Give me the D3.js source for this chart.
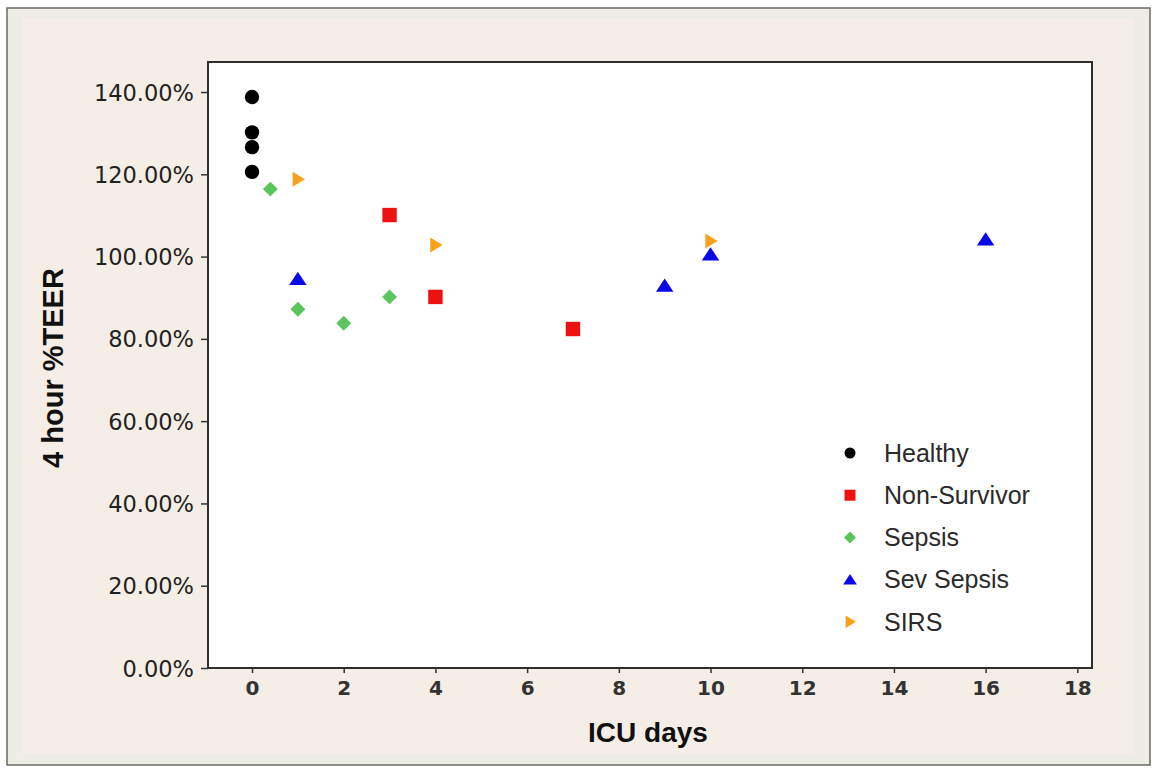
<!DOCTYPE html>
<html><head><meta charset="utf-8">
<script src="https://cdn.jsdelivr.net/npm/d3@7"></script>
<style>body{margin:0;background:#fff}</style>
</head><body>
<script>
const groups = ["Healthy","Non-Survivor","Sepsis","Sev Sepsis","SIRS"];
const healthyX = [0,0,0,0];
const healthyY = [138.8,130.2,126.6,120.6];
const nonSurvivorX = [3,4,7];
const nonSurvivorY = [110.1,90.2,82.4];
const sepsisX = [0.4,1,2,3];
const sepsisY = [116.4,87.2,83.8,90.2];
const sevSepsisX = [1,9,10,16];
const sevSepsisY = [94.6,93.0,100.6,104.2];
const sirsX = [1,4,10];
const sirsY = [118.8,102.8,103.8];
const xTicks = [0,2,4,6,8,10,12,14,16,18];
const yTicks = [0,20,40,60,80,100,120,140];

const W=1157,H=772;
const svg=d3.select("body").append("svg").attr("width",W).attr("height",H);
svg.append("rect").attr("x",0).attr("y",0).attr("width",W).attr("height",H).attr("fill","#ffffff");
svg.append("rect").attr("x",7).attr("y",8).attr("width",1143).attr("height",757).attr("fill","#eeede3").attr("stroke","#6b6b63").attr("stroke-width",1.5);
svg.append("rect").attr("x",22).attr("y",18).attr("width",1112).attr("height",736).attr("fill","#f5eee6");

const L=208,T=62,R=1092,B=668;
const x=d3.scaleLinear().domain([-0.96,18.32]).range([L,R]);
const y=d3.scaleLinear().domain([0,147.3]).range([B,T]);

svg.append("rect").attr("x",L).attr("y",T).attr("width",R-L).attr("height",B-T).attr("fill","#fff").attr("stroke","#2e2e2e").attr("stroke-width",2);

const yAxis=svg.append("g").attr("transform",`translate(${L},0)`)
  .call(d3.axisLeft(y).tickValues(yTicks).tickSize(7).tickPadding(7).tickFormat(d=>d.toFixed(2)+"%"));
const xAxis=svg.append("g").attr("transform",`translate(0,${B})`)
  .call(d3.axisBottom(x).tickValues(xTicks).tickSize(5).tickPadding(8).tickFormat(d3.format("d")));
[yAxis,xAxis].forEach(g=>{
  g.select(".domain").remove();
  g.selectAll("line").attr("stroke","#333").attr("stroke-width",1.5);
  g.selectAll("text").attr("fill","#222").style("font-family","DejaVu Sans, sans-serif").style("font-size","22.5px");
});
xAxis.selectAll("text").style("font-size","20px").style("font-weight","bold").attr("fill","#333");
yAxis.selectAll("text").attr("dy","0.36em");

svg.append("text").attr("x",648).attr("y",742).attr("text-anchor","middle")
  .style("font-family","Liberation Sans, Arial, sans-serif").style("font-weight","bold").style("font-size","28px").attr("fill","#111").text("ICU days");
svg.append("text").attr("transform","translate(63,368) rotate(-90)").attr("text-anchor","middle")
  .style("font-family","Liberation Sans, Arial, sans-serif").style("font-weight","bold").style("font-size","29px").attr("fill","#111").text("4 hour %TEER");

const colors={"Healthy":"#000000","Non-Survivor":"#ee1111","Sepsis":"#5cc45e","Sev Sepsis":"#0a0ae6","SIRS":"#f5a11c"};
function shape(g,s){
  if(g==="Healthy") return `M${s},0A${s},${s} 0 1,1 ${-s},0A${s},${s} 0 1,1 ${s},0Z`;
  if(g==="Non-Survivor") return `M${-s},${-s}H${s}V${s}H${-s}Z`;
  if(g==="Sepsis") { const d=s*1.2; return `M0,${-d}L${d},0L0,${d}L${-d},0Z`; }
  if(g==="Sev Sepsis") { const w=s*1.25; return `M0,${-s*1.0}L${w},${s*0.9}L${-w},${s*0.9}Z`; }
  const h=s*1.15; return `M${-s*0.8},${-h}L${s*1.1},0L${-s*0.8},${h}Z`;
}
const series=[["Healthy",healthyX,healthyY],["Non-Survivor",nonSurvivorX,nonSurvivorY],["Sepsis",sepsisX,sepsisY],["Sev Sepsis",sevSepsisX,sevSepsisY],["SIRS",sirsX,sirsY]];
const sizes={"Healthy":7.2,"Non-Survivor":7.2,"Sepsis":6.2,"Sev Sepsis":7,"SIRS":6.5};
series.forEach(([g,xs,ys])=>{
  svg.append("g").selectAll("path").data(xs.map((v,i)=>[v,ys[i]])).join("path")
    .attr("transform",d=>`translate(${x(d[0])},${y(d[1])})`)
    .attr("d",shape(g,sizes[g])).attr("fill",colors[g]);
});

const lg=svg.append("g");
groups.forEach((g,i)=>{
  const yy=453+i*42.2;
  lg.append("path").attr("transform",`translate(850,${yy})`).attr("d",shape(g,g==="Sepsis"?5:5.5)).attr("fill",colors[g]);
  lg.append("text").attr("x",884).attr("y",yy).attr("dy","0.35em")
    .style("font-family","Liberation Sans, Arial, sans-serif").style("font-size","25px").attr("fill","#2a2a2a").text(g);
});
</script>
</body></html>
